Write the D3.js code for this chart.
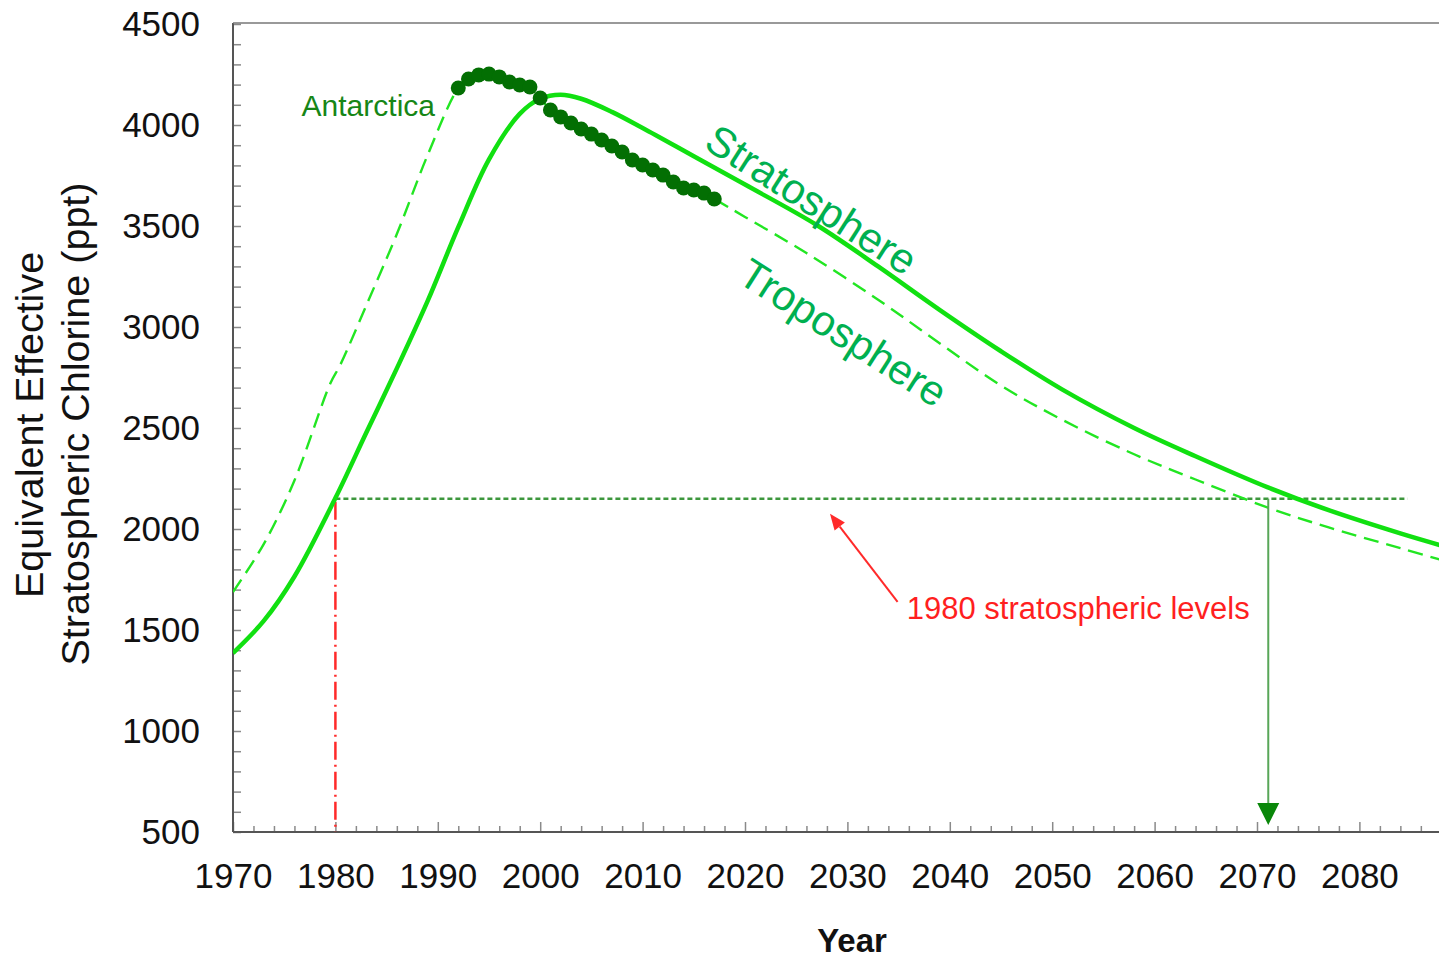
<!DOCTYPE html>
<html>
<head>
<meta charset="utf-8">
<script src="https://cdn.jsdelivr.net/npm/d3@7"></script>
<style>
  html, body { margin: 0; padding: 0; background: #fff; overflow: hidden; }
  svg { display: block; }
  text { font-family: "Liberation Sans", Arial, Helvetica, sans-serif; }
</style>
</head>
<body>
<svg id="chart" width="1439" height="959"></svg>
<script>
// Equivalent effective stratospheric chlorine (ppt)

// Mid-latitude stratosphere (solid curve)
const stratoYears  = [1970, 1973, 1976, 1980, 1983, 1986, 1989, 1992, 1995, 1998, 2000, 2002,
                      2004, 2007, 2010, 2015, 2020, 2027, 2033, 2039, 2045, 2051, 2058, 2064,
                      2071, 2077, 2084, 2088];
const stratoValues = [1386, 1545, 1765, 2153, 2475, 2795, 3128, 3494, 3830, 4055, 4130, 4150,
                      4130, 4065, 3985, 3845, 3705, 3505, 3300, 3085, 2880, 2690, 2500, 2360,
                      2207, 2093, 1978, 1918];

// Troposphere-based curve (dashed), before and after the observed Antarctic record
const tropoYears  = [1970, 1973, 1976, 1979.5, 1980.5, 1983, 1986, 1989,
                     2020, 2026, 2033, 2039, 2045, 2051, 2058, 2064, 2071, 2077, 2084, 2088];
const tropoValues = [1688, 1925, 2240, 2720, 2815, 3105, 3460, 3850,
                     3545, 3366, 3135, 2920, 2710, 2540, 2370, 2245, 2107, 2008, 1905, 1847];

// Antarctic yearly values (dots)
const antarcticYears  = [1992, 1993, 1994, 1995, 1996, 1997, 1998, 1999, 2000, 2001, 2002, 2003, 2004,
                         2005, 2006, 2007, 2008, 2009, 2010, 2011, 2012, 2013, 2014, 2015, 2016, 2017];
const antarcticValues = [4183, 4228, 4248, 4252, 4238, 4213, 4198, 4188, 4134, 4074, 4040, 4010, 3980,
                         3955, 3926, 3896, 3866, 3827, 3802, 3777, 3752, 3718, 3688, 3678, 3663, 3634];

// Axis ticks
const xTickLabels  = [1970, 1980, 1990, 2000, 2010, 2020, 2030, 2040, 2050, 2060, 2070, 2080];
const xMinorTicks  = [1970, 1972, 1974, 1976, 1978, 1980, 1982, 1984, 1986, 1988, 1990, 1992, 1994,
                      1996, 1998, 2000, 2002, 2004, 2006, 2008, 2010, 2012, 2014, 2016, 2018, 2020,
                      2022, 2024, 2026, 2028, 2030, 2032, 2034, 2036, 2038, 2040, 2042, 2044, 2046,
                      2048, 2050, 2052, 2054, 2056, 2058, 2060, 2062, 2064, 2066, 2068, 2070, 2072,
                      2074, 2076, 2078, 2080, 2082, 2084, 2086];
const yTickLabels  = [500, 1000, 1500, 2000, 2500, 3000, 3500, 4000, 4500];

// Reference level and return year
const level1980     = 2150;
const levelLineEnd  = 2084.7;
const recoveryYear  = 2071.1;

const svg = d3.select("#chart");
const W = 1439, H = 959;

const x = d3.scaleLinear().domain([1970, 2080]).range([233, 1359.4]);
const y = d3.scaleLinear().domain([500, 4500]).range([832, 24]);

const plotLeft = 233, plotTop = 23, plotBottom = 832, plotRight = W;

svg.append("defs").append("clipPath").attr("id", "plotClip")
  .append("rect").attr("x", plotLeft).attr("y", plotTop)
  .attr("width", plotRight - plotLeft).attr("height", plotBottom - plotTop);

// ---- axes ----
const yMinor = d3.range(500, 4501, 100);
const yAxis = d3.axisLeft(y)
  .tickValues(yMinor)
  .tickSizeInner(-8)
  .tickSizeOuter(0)
  .tickPadding(33)
  .tickFormat(d => yTickLabels.includes(d) ? d : "");
const gy = svg.append("g").attr("transform", `translate(${plotLeft},0)`).call(yAxis);
gy.select(".domain").remove();
gy.selectAll(".tick line").attr("stroke", "#8a8a8a").attr("stroke-width", 1.5);
gy.selectAll(".tick text").attr("font-size", 35).attr("fill", "#111")
  .attr("font-family", "Liberation Sans, Arial, sans-serif");

const xAxis = d3.axisBottom(x)
  .tickValues(xMinorTicks)
  .tickSizeInner(-6)
  .tickSizeOuter(0)
  .tickPadding(31)
  .tickFormat(d => xTickLabels.includes(d) ? d : "");
const gx = svg.append("g").attr("transform", `translate(0,${plotBottom})`).call(xAxis);
gx.select(".domain").remove();
gx.selectAll(".tick line").attr("stroke", "#8a8a8a").attr("stroke-width", 1.5)
  .attr("y2", d => xTickLabels.includes(d) ? -10 : -6);
gx.selectAll(".tick text").attr("font-size", 35).attr("fill", "#111")
  .attr("font-family", "Liberation Sans, Arial, sans-serif");

// frame lines
svg.append("line").attr("x1", plotLeft).attr("x2", plotRight).attr("y1", plotBottom).attr("y2", plotBottom)
  .attr("stroke", "#555").attr("stroke-width", 2);
svg.append("line").attr("x1", plotLeft).attr("x2", plotLeft).attr("y1", plotTop).attr("y2", plotBottom)
  .attr("stroke", "#555").attr("stroke-width", 2);
svg.append("line").attr("x1", plotLeft).attr("x2", plotRight).attr("y1", plotTop).attr("y2", plotTop)
  .attr("stroke", "#777").attr("stroke-width", 1.5);

// axis titles
svg.append("text")
  .attr("transform", "translate(43,425) rotate(-90)")
  .attr("text-anchor", "middle").attr("font-size", 39.5).attr("fill", "#111")
  .text("Equivalent Effective");
svg.append("text")
  .attr("transform", "translate(89,424) rotate(-90)")
  .attr("text-anchor", "middle").attr("font-size", 39.5).attr("fill", "#111")
  .text("Stratospheric Chlorine (ppt)");
svg.append("text")
  .attr("x", 852).attr("y", 952)
  .attr("text-anchor", "middle").attr("font-size", 33).attr("font-weight", "bold").attr("fill", "#111")
  .text("Year");

// ---- data layer ----
const plot = svg.append("g").attr("clip-path", "url(#plotClip)");

const line = d3.line().x(d => x(d[0])).y(d => y(d[1])).curve(d3.curveCatmullRom.alpha(0.5));

// 1980 reference level (dotted)
plot.append("line")
  .attr("x1", x(1980)).attr("x2", x(levelLineEnd))
  .attr("y1", y(level1980)).attr("y2", y(level1980))
  .attr("stroke", "#3d973d").attr("stroke-width", 2.5).attr("stroke-dasharray", "5,3");

// 1980 marker (red dash-dot)
plot.append("line")
  .attr("x1", x(1980)).attr("x2", x(1980))
  .attr("y1", y(level1980) + 3).attr("y2", y(500))
  .attr("stroke", "#ff2a2a").attr("stroke-width", 2.5).attr("stroke-dasharray", "18,5,2,5");

// dashed troposphere curve, joined through the Antarctic record
const tropoPts = tropoYears.map((t, i) => [t, tropoValues[i]])
  .concat(antarcticYears.map((t, i) => [t, antarcticValues[i]]))
  .sort((a, b) => a[0] - b[0]);
plot.append("path").datum(tropoPts)
  .attr("d", line).attr("fill", "none")
  .attr("stroke", "#22e622").attr("stroke-width", 2.4).attr("stroke-dasharray", "15,8");

// solid stratosphere curve
plot.append("path").datum(stratoYears.map((t, i) => [t, stratoValues[i]]))
  .attr("d", line).attr("fill", "none")
  .attr("stroke", "#11e011").attr("stroke-width", 4.5);

// Antarctic dots
plot.selectAll("circle.ant").data(antarcticYears.map((t, i) => [t, antarcticValues[i]]))
  .join("circle").attr("class", "ant")
  .attr("cx", d => x(d[0])).attr("cy", d => y(d[1])).attr("r", 7.5)
  .attr("fill", "#036f03");

// return-to-1980 arrow (green)
const ax = x(recoveryYear);
plot.append("line")
  .attr("x1", ax).attr("x2", ax)
  .attr("y1", y(level1980)).attr("y2", y(500) - 26)
  .attr("stroke", "#58a658").attr("stroke-width", 2);
plot.append("polygon")
  .attr("points", `${ax - 11},${y(500) - 29} ${ax + 11},${y(500) - 29} ${ax},${y(500) - 7}`)
  .attr("fill", "#0a870a");

// ---- annotations ----
svg.append("text")
  .attr("x", x(1976.7)).attr("y", y(4045))
  .attr("font-size", 30).attr("fill", "#168616")
  .text("Antarctica");

svg.append("text")
  .attr("transform", `translate(${x(2026.5)},${y(3630)}) rotate(32.5)`)
  .attr("text-anchor", "middle").attr("dominant-baseline", "central")
  .attr("font-family", "Open Sans, Noto Sans, sans-serif")
  .attr("font-size", 42).attr("fill", "#00b050")
  .text("Stratosphere");

svg.append("text")
  .attr("transform", `translate(${x(2029.6)},${y(2972)}) rotate(32.5)`)
  .attr("text-anchor", "middle").attr("dominant-baseline", "central")
  .attr("font-family", "Open Sans, Noto Sans, sans-serif")
  .attr("font-size", 42).attr("fill", "#00b050")
  .text("Troposphere");

// red callout arrow pointing at the 1980 level
const tail = [x(2034.9), y(1639)], tip = [x(2028.3), y(2075)];
const ang = Math.atan2(tip[1] - tail[1], tip[0] - tail[0]);
const headLen = 16, headHalf = 6.5;
const base = [tip[0] - headLen * Math.cos(ang), tip[1] - headLen * Math.sin(ang)];
svg.append("line")
  .attr("x1", tail[0]).attr("y1", tail[1]).attr("x2", base[0]).attr("y2", base[1])
  .attr("stroke", "#ff2a2a").attr("stroke-width", 2);
svg.append("polygon")
  .attr("points", [
    tip,
    [base[0] + headHalf * Math.sin(ang), base[1] - headHalf * Math.cos(ang)],
    [base[0] - headHalf * Math.sin(ang), base[1] + headHalf * Math.cos(ang)]
  ].map(p => p.join(",")).join(" "))
  .attr("fill", "#ff2a2a");

svg.append("text")
  .attr("x", x(2035.8)).attr("y", y(1554))
  .attr("font-size", 31).attr("fill", "#ff1f1f")
  .text("1980 stratospheric levels");
</script>
</body>
</html>
